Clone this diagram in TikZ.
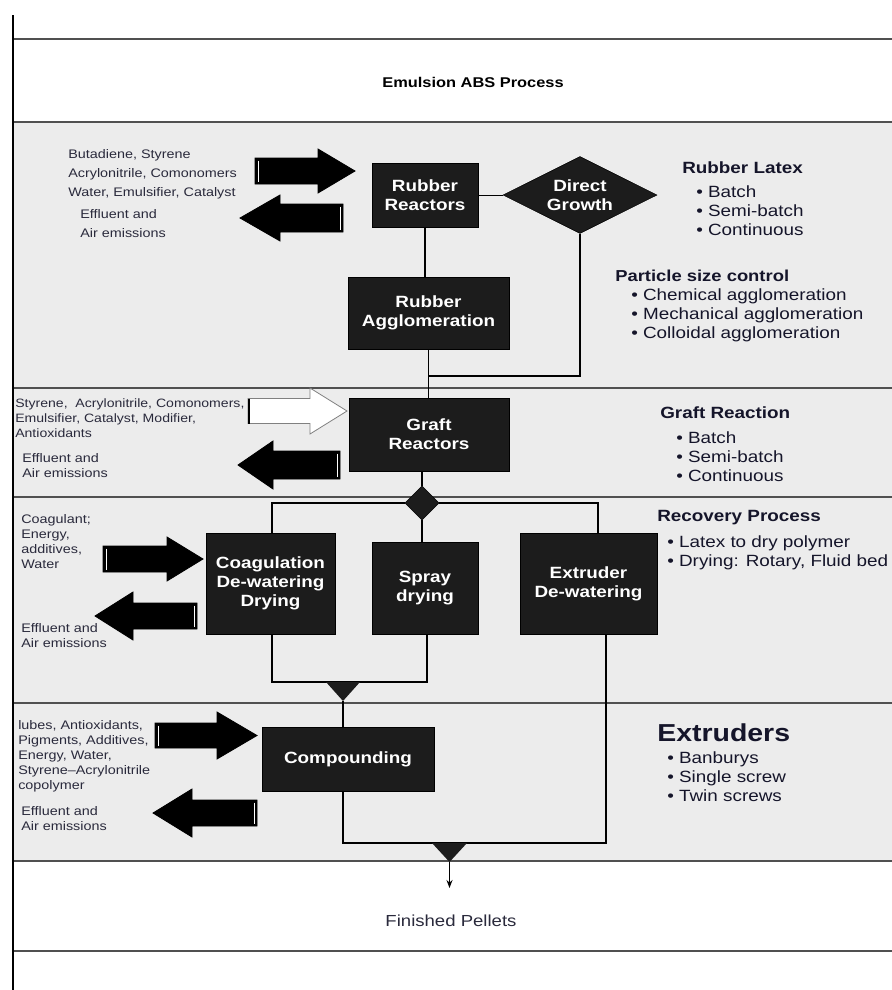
\documentclass[tikz,border=0pt]{standalone}
\usepackage{fontspec}
\setmainfont{Liberation Sans}[FakeStretch=1.16]
\usetikzlibrary{shapes.geometric,arrows.meta}
\definecolor{bandgray}{HTML}{ECECEC}
\definecolor{bandline}{HTML}{505050}
\definecolor{boxfill}{HTML}{1C1C1C}
\definecolor{lefttext}{HTML}{2A2A3C}
\definecolor{righttext}{HTML}{15152A}
\begin{document}
\begin{tikzpicture}[x=0.75pt,y=-0.75pt,
  procbox/.style={rectangle, fill=boxfill, draw=black, line width=0.5pt, text=white, align=center, inner sep=0pt, font=\bfseries\fontsize{12.2}{14.25}\selectfont},
  lefttxt/.style={anchor=west, align=left, inner sep=0pt, text=lefttext, font=\fontsize{9.3}{11.25}\selectfont},
  lefttxtw/.style={lefttxt, font=\fontsize{9.3}{14.25}\selectfont},
  headtxt/.style={anchor=west, inner sep=0pt, text=righttext, font=\bfseries\fontsize{12.2}{14.25}\selectfont},
  bullets/.style={anchor=west, align=left, inner sep=0pt, text=righttext, font=\fontsize{12.2}{14.25}\selectfont},
  conn/.style={draw=black, line width=0.9pt},
  bandrule/.style={draw=bandline, line width=1.5pt},
  fatarrow/.style={fill=black, draw=black, line width=0.6pt, line join=miter},
  whitearrow/.style={fill=white, draw=gray, line width=0.6pt, line join=miter},
  tailline/.style={draw=white, line width=0.6pt}
]
\useasboundingbox (0,0) rectangle (892,990);
\fill[white] (0,0) rectangle (892,990);
\fill[bandgray] (13,122) rectangle (892,861);
% band rules
\foreach \yy in {39,122,388,497,703,861,951} {\draw[bandrule] (13,\yy) -- (892,\yy);}
\draw[black, line width=1.2pt] (13,15) -- (13,990);

% title and final
\node[font=\bfseries\fontsize{10.6}{12}\selectfont, text=black] (title) at (473,82) {Emulsion ABS Process};
\node[font=\fontsize{12}{14}\selectfont, text=lefttext] (fin) at (451,921) {Finished Pellets};

% process nodes
\node[procbox, minimum width=79.5pt, minimum height=48pt] (rr) at (425,195) {Rubber\\Reactors};
\node[diamond, shape aspect=2, fill=boxfill, draw=black, text=white, align=center, inner sep=0pt,
      font=\bfseries\fontsize{12.2}{14.25}\selectfont, minimum width=115.5pt, minimum height=57.75pt] (dg) at (580,195) {Direct\\Growth};
\node[procbox, minimum width=120.75pt, minimum height=54pt] (ra) at (428.5,313) {Rubber\\Agglomeration};
\node[procbox, minimum width=120pt, minimum height=54.75pt] (gr) at (429,434.5) {Graft\\Reactors};
\node[diamond, fill=boxfill, draw=black, inner sep=0pt, minimum width=25.5pt, minimum height=25.5pt] (jd) at (422,503) {};
\node[procbox, minimum width=96.75pt, minimum height=75.75pt] (co) at (270.5,583.5) {Coagulation\\De-watering\\Drying};
\node[procbox, minimum width=79.5pt, minimum height=69pt] (sp) at (425,588) {Spray\\drying};
\node[procbox, minimum width=102.75pt, minimum height=75.75pt] (ex) at (588.5,583.5) {Extruder\\De-watering};
\node[procbox, minimum width=129pt, minimum height=48pt] (cp) at (348,759) {Compounding};

% junction coordinates
\coordinate (jr) at (428.5,376);
\coordinate (jl) at (272,503);
\coordinate (jrr) at (598,503);
\coordinate (bl) at (272,682);
\coordinate (br) at (427,682);
\coordinate (t1) at (343,701);
\coordinate (cb) at (343,843);
\coordinate (eb) at (606,843);
\coordinate (t2) at (449.5,862);
\coordinate (fp) at (449.5,888);

% connectors
\draw[conn, line width=0.7pt] (rr) -- (dg);
\draw[conn] (rr.south) -- (rr.south |- ra.north);
\draw[conn] (ra.south) -- (ra.south |- gr.north);
\draw[conn] (dg.south) |- (jr);
\draw[conn] (jd.north |- gr.south) -- (jd.north);
\draw[conn] (jl |- co.north) -- (jl) -- (jd.west);
\draw[conn] (jd.east) -- (jrr) -- (jrr |- ex.north);
\draw[conn] (jd.south) -- (jd.south |- sp.north);
\draw[conn] (bl |- co.south) -- (bl) -- (br) -- (br |- sp.south);
\fill[boxfill] (326,682) -- (360,682) -- (t1) -- cycle;
\draw[conn] (t1) -- (t1 |- cp.north);
\draw[conn] (cb |- cp.south) -- (cb) -- (eb) -- (eb |- ex.south);
\fill[boxfill] (432,843) -- (467,843) -- (t2) -- cycle;
\draw[conn, -{Stealth[length=6pt,width=4.5pt]}] (t2) -- (fp);

% fat arrows
\draw[fatarrow] (255,158) -- (318,158) -- (318,149) -- (355,171) -- (318,193) -- (318,184) -- (255,184) -- cycle;
\draw[tailline] (258,160.5) -- (258,181.5);
\draw[fatarrow] (343,204) -- (280,204) -- (280,195) -- (240,218) -- (280,241) -- (280,232) -- (343,232) -- cycle;
\draw[tailline] (340,206.5) -- (340,229.5);
\draw[whitearrow] (248,398.5) -- (310,398.5) -- (310,388) -- (347,411) -- (310,434) -- (310,423.5) -- (248,423.5) -- cycle;
\draw[black, line width=1.5pt] (248.5,398.5) -- (248.5,423.5);
\draw[fatarrow] (340,451) -- (273,451) -- (273,441) -- (238,465) -- (273,489) -- (273,479) -- (340,479) -- cycle;
\draw[tailline] (337,453.5) -- (337,476.5);
\draw[fatarrow] (103,546) -- (167,546) -- (167,537) -- (203,559) -- (167,581) -- (167,572) -- (103,572) -- cycle;
\draw[tailline] (106,548.5) -- (106,569.5);
\draw[fatarrow] (197,603) -- (133,603) -- (133,592) -- (95,616) -- (133,640) -- (133,629) -- (197,629) -- cycle;
\draw[tailline] (194,605.5) -- (194,626.5);
\draw[fatarrow] (155,723) -- (217,723) -- (217,712) -- (257,735.5) -- (217,759) -- (217,748) -- (155,748) -- cycle;
\draw[tailline] (158,725.5) -- (158,745.5);
\draw[fatarrow] (257,800) -- (192,800) -- (192,789) -- (153,813) -- (192,837) -- (192,826) -- (257,826) -- cycle;
\draw[tailline] (254,802.5) -- (254,823.5);

% left texts
\node[lefttxtw] (in1) at (68,174) {Butadiene, Styrene\\Acrylonitrile, Comonomers\\Water, Emulsifier, Catalyst};
\node[lefttxtw] (out1) at (80,223.5) {Effluent and\\Air emissions};
\node[lefttxt, font=\fontsize{9.1}{11.25}\selectfont] (in2) at (15,418.5) {Styrene,~ Acrylonitrile, Comonomers,\\Emulsifier, Catalyst, Modifier,\\Antioxidants};
\node[lefttxt] (out2) at (22,466) {Effluent and\\Air emissions};
\node[lefttxt] (in3) at (21,542) {Coagulant;\\Energy,\\additives,\\Water};
\node[lefttxt] (out3) at (21,635.5) {Effluent and\\Air emissions};
\node[lefttxt] (in4) at (18,756.5) {lubes, Antioxidants,\\Pigments, Additives,\\Energy, Water,\\Styrene--Acrylonitrile\\copolymer};
\node[lefttxt] (out4) at (21,818.5) {Effluent and\\Air emissions};

% right texts
\node[headtxt] (h1) at (682,168) {Rubber Latex};
\node[bullets] (b1) at (696,211) {• Batch\\• Semi-batch\\• Continuous};
\node[headtxt, font=\bfseries\fontsize{11.9}{14.25}\selectfont] (h2) at (615,276) {Particle size control};
\node[bullets] (b2) at (631,315) {• Chemical agglomeration\\• Mechanical agglomeration\\• Colloidal agglomeration};
\node[headtxt] (h3) at (660,413) {Graft Reaction};
\node[bullets] (b3) at (676,457) {• Batch\\• Semi-batch\\• Continuous};
\node[headtxt] (h4) at (657,518) {Recovery Process};
\node[bullets] (b4) at (667,552.5) {• Latex to dry polymer\\• Drying: Rotary, Fluid bed};
\node[headtxt, font=\bfseries\fontsize{18.4}{20}\selectfont] (h5) at (657,733) {Extruders};
\node[bullets] (b5) at (667,777) {• Banburys\\• Single screw\\• Twin screws};
\end{tikzpicture}
\end{document}
